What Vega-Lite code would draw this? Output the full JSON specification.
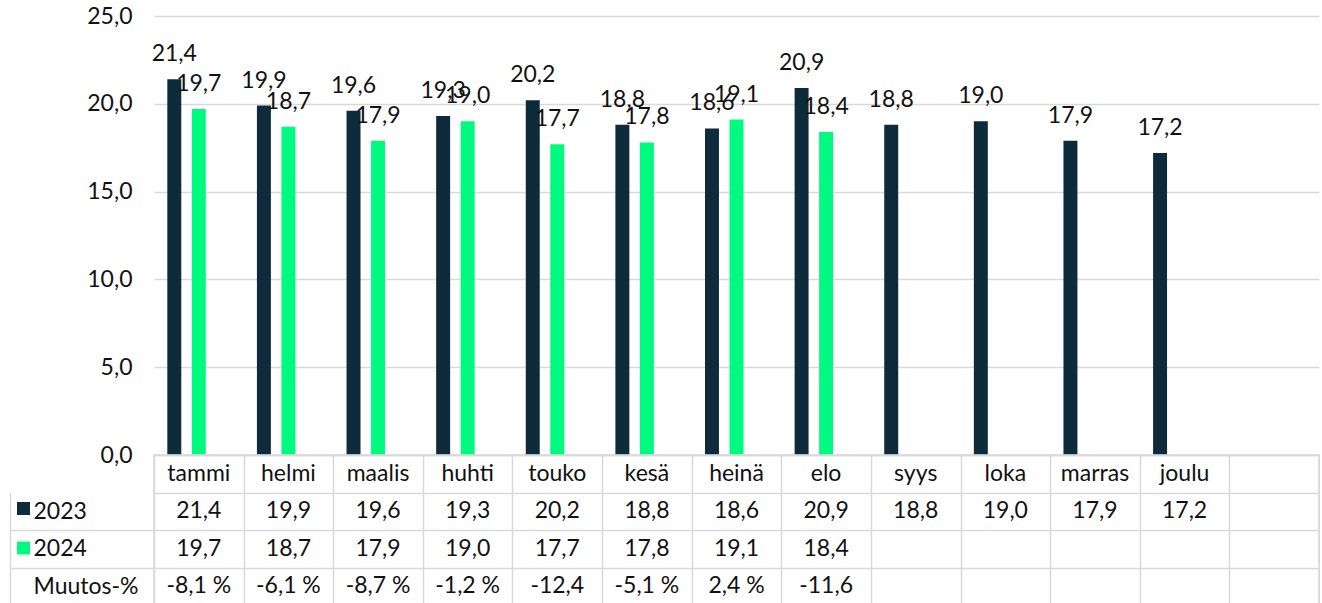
{
  "$schema": "https://vega.github.io/schema/vega-lite/v6.json",
  "padding": {"left": 8, "top": 5, "right": 0, "bottom": 0},
  "background": "#ffffff",
  "config": {
    "locale": {"number": {"decimal": ",", "thousands": " ", "grouping": [3], "currency": ["", " €"]}},
    "font": "Lato",
    "text": {"font": "Lato"},
    "axis": {"labelFont": "Lato"}
  },
  "datasets": {
    "kuukaudet": [
      {"kk": "tammi", "2023": 21.4, "2024": 19.7, "muutos": "-8,1 %"},
      {"kk": "helmi", "2023": 19.9, "2024": 18.7, "muutos": "-6,1 %"},
      {"kk": "maalis", "2023": 19.6, "2024": 17.9, "muutos": "-8,7 %"},
      {"kk": "huhti", "2023": 19.3, "2024": 19.0, "muutos": "-1,2 %"},
      {"kk": "touko", "2023": 20.2, "2024": 17.7, "muutos": "-12,4"},
      {"kk": "kesä", "2023": 18.8, "2024": 17.8, "muutos": "-5,1 %"},
      {"kk": "heinä", "2023": 18.6, "2024": 19.1, "muutos": "2,4 %"},
      {"kk": "elo", "2023": 20.9, "2024": 18.4, "muutos": "-11,6"},
      {"kk": "syys", "2023": 18.8, "2024": null, "muutos": ""},
      {"kk": "loka", "2023": 19.0, "2024": null, "muutos": ""},
      {"kk": "marras", "2023": 17.9, "2024": null, "muutos": ""},
      {"kk": "joulu", "2023": 17.2, "2024": null, "muutos": ""}
    ]
  },
  "spacing": 0,
  "bounds": "flush",
  "vconcat": [
    {
      "width": 1165,
      "height": 439,
      "data": {"name": "kuukaudet"},
      "transform": [
        {"fold": ["2023", "2024"], "as": ["vuosi", "arvo"]},
        {"filter": "isValid(datum.arvo)"}
      ],
      "view": {"stroke": null},
      "encoding": {
        "x": {
          "field": "kk", "type": "nominal", "sort": null,
          "scale": {"domain": ["tammi", "helmi", "maalis", "huhti", "touko", "kesä", "heinä", "elo", "syys", "loka", "marras", "joulu", ""], "paddingInner": 0, "paddingOuter": 0},
          "axis": null
        },
        "xOffset": {
          "field": "vuosi", "type": "nominal",
          "scale": {"domain": ["2023", "2024", "Muutos-%"], "paddingInner": 0.43, "paddingOuter": 0.543}
        },
        "y": {
          "field": "arvo", "type": "quantitative",
          "scale": {"domain": [0, 25], "nice": false},
          "axis": {"values": [0, 5, 10, 15, 20, 25], "format": ".1f", "grid": true, "gridColor": "#d9d9d9", "gridWidth": 1.5, "domain": false, "ticks": false, "labelFontSize": 23, "labelPadding": 22, "labelColor": "#111111", "title": null}
        }
      },
      "layer": [
        {
          "mark": {"type": "bar"},
          "encoding": {
            "color": {
              "field": "vuosi", "type": "nominal",
              "scale": {"domain": ["2023", "2024"], "range": ["#0e2b3c", "#00fa7f"]},
              "legend": {"orient": "none", "legendX": -142, "legendY": 481, "title": null, "labelExpr": "''", "symbolType": "square", "symbolSize": 169, "symbolStrokeWidth": 0, "labelFontSize": 23, "rowPadding": 15.5, "symbolOpacity": 1}
            }
          }
        },
        {
          "mark": {"type": "text", "dy": -25, "fontSize": 23, "color": "#111111"},
          "encoding": {"text": {"field": "arvo", "type": "quantitative", "format": ".1f"}}
        }
      ]
    },
    {
      "width": 1165,
      "height": 150,
      "data": {"name": "kuukaudet"},
      "view": {"stroke": "#d9d9d9", "strokeWidth": 1.5},
      "resolve": {"axis": {"y": "independent"}},
      "layer": [
        {
          "mark": {"type": "text", "fontSize": 23, "color": "#111111"},
          "encoding": {
            "x": {
              "field": "kk", "type": "nominal", "sort": null,
              "scale": {"domain": ["tammi", "helmi", "maalis", "huhti", "touko", "kesä", "heinä", "elo", "syys", "loka", "marras", "joulu", ""], "paddingInner": 0, "paddingOuter": 0},
              "axis": {"orient": "top", "grid": true, "gridColor": "#d9d9d9", "gridWidth": 1.5, "tickBand": "extent", "labels": false, "ticks": false, "domain": false, "title": null}
            },
            "y": {
              "datum": "kk", "type": "nominal",
              "scale": {"domain": ["kk", "2023", "2024", "Muutos-%"], "paddingInner": 0, "paddingOuter": 0},
              "axis": {
                "orient": "left", "offset": 144, "title": null,
                "labelExpr": "datum.value == 'kk' ? '' : datum.value",
                "labelAlign": "left", "labelPadding": 121, "labelFontSize": 23, "labelColor": "#111111",
                "tickSize": -144, "tickBand": "extent", "tickColor": "#d9d9d9", "tickWidth": 1.5,
                "tickOpacity": {"condition": {"test": "datum.value === 'kk' || datum.extra", "value": 0}, "value": 1},
                "domainColor": "#d9d9d9", "domainWidth": 1.5, "domainDash": [0, 37.5, 150, 0],
                "grid": false
              }
            },
            "text": {"field": "kk"}
          }
        },
        {
          "transform": [
            {"fold": ["2023", "2024"], "as": ["vuosi", "arvo"]},
            {"filter": "isValid(datum.arvo)"}
          ],
          "mark": {"type": "text", "fontSize": 23, "color": "#111111"},
          "encoding": {
            "x": {
              "field": "kk", "type": "nominal", "sort": null,
              "scale": {"domain": ["tammi", "helmi", "maalis", "huhti", "touko", "kesä", "heinä", "elo", "syys", "loka", "marras", "joulu", ""], "paddingInner": 0, "paddingOuter": 0},
              "axis": {"orient": "top", "grid": true, "gridColor": "#d9d9d9", "gridWidth": 1.5, "tickBand": "extent", "labels": false, "ticks": false, "domain": false, "title": null}
            },
            "y": {
              "field": "vuosi", "type": "nominal",
              "scale": {"domain": ["kk", "2023", "2024", "Muutos-%"], "paddingInner": 0, "paddingOuter": 0},
              "axis": {"orient": "right", "grid": true, "gridColor": "#d9d9d9", "gridWidth": 1.5, "tickBand": "extent", "labels": false, "ticks": false, "domain": false, "title": null}
            },
            "text": {"field": "arvo", "type": "quantitative", "format": ".1f"}
          }
        },
        {
          "mark": {"type": "text", "fontSize": 23, "color": "#111111"},
          "encoding": {
            "x": {
              "field": "kk", "type": "nominal", "sort": null,
              "scale": {"domain": ["tammi", "helmi", "maalis", "huhti", "touko", "kesä", "heinä", "elo", "syys", "loka", "marras", "joulu", ""], "paddingInner": 0, "paddingOuter": 0},
              "axis": {"orient": "top", "grid": true, "gridColor": "#d9d9d9", "gridWidth": 1.5, "tickBand": "extent", "labels": false, "ticks": false, "domain": false, "title": null}
            },
            "y": {
              "datum": "Muutos-%", "type": "nominal",
              "scale": {"domain": ["kk", "2023", "2024", "Muutos-%"], "paddingInner": 0, "paddingOuter": 0},
              "axis": null
            },
            "text": {"field": "muutos"}
          }
        }
      ]
    }
  ]
}
